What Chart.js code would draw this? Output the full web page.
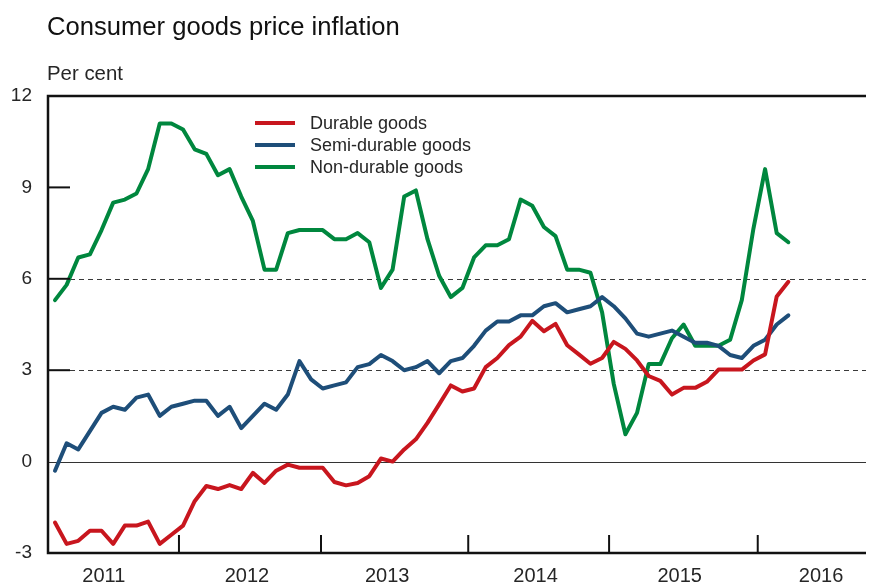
<!DOCTYPE html>
<html>
<head>
<meta charset="utf-8">
<title>Consumer goods price inflation</title>
<script src="https://cdn.jsdelivr.net/npm/chart.js@4.4.1/dist/chart.umd.min.js"></script>
<style>
    body { margin: 0; background: #fff; }
    #wrap { width: 875px; height: 585px; position: relative; }
</style>
</head>
<body>
<div id="wrap"><canvas id="inflationChart"></canvas></div>
<script>
// monthly observations, index 0 = first month shown
var durableGoods = [
    -2.0, -2.7, -2.6, -2.27, -2.27, -2.7, -2.1, -2.1, -1.97, -2.7, -2.4, -2.1,
    -1.3, -0.8, -0.9, -0.77, -0.9, -0.37, -0.7, -0.3, -0.1, -0.2, -0.2, -0.2,
    -0.67, -0.78, -0.7, -0.48, 0.1, 0.0, 0.4, 0.73, 1.27, 1.88, 2.5, 2.3,
    2.4, 3.1, 3.4, 3.82, 4.1, 4.62, 4.28, 4.52, 3.82, 3.52, 3.21, 3.4,
    3.93, 3.7, 3.32, 2.81, 2.65, 2.2, 2.42, 2.42, 2.62, 3.02, 3.02, 3.02,
    3.32, 3.52, 5.42, 5.9
];
var semiDurableGoods = [
    -0.3, 0.6, 0.4, 1.0, 1.6, 1.8, 1.7, 2.1, 2.2, 1.5, 1.8, 1.9,
    2.0, 2.0, 1.5, 1.8, 1.1, 1.5, 1.9, 1.7, 2.2, 3.3, 2.7, 2.4,
    2.5, 2.6, 3.1, 3.2, 3.5, 3.3, 3.0, 3.1, 3.3, 2.9, 3.3, 3.4,
    3.8, 4.3, 4.6, 4.6, 4.8, 4.8, 5.1, 5.2, 4.9, 5.0, 5.1, 5.4,
    5.1, 4.7, 4.2, 4.1, 4.2, 4.3, 4.1, 3.9, 3.9, 3.8, 3.5, 3.4,
    3.8, 4.0, 4.5, 4.8
];
var nonDurableGoods = [
    5.3, 5.8, 6.7, 6.8, 7.6, 8.5, 8.6, 8.8, 9.6, 11.1, 11.1, 10.9,
    10.25, 10.1, 9.4, 9.6, 8.7, 7.9, 6.3, 6.3, 7.5, 7.6, 7.6, 7.6,
    7.3, 7.3, 7.5, 7.2, 5.7, 6.3, 8.7, 8.9, 7.3, 6.1, 5.4, 5.7,
    6.7, 7.1, 7.1, 7.3, 8.6, 8.4, 7.7, 7.4, 6.3, 6.3, 6.2, 4.9,
    2.55, 0.9, 1.6, 3.2, 3.2, 4.05, 4.5, 3.8, 3.8, 3.8, 4.0, 5.3,
    7.65, 9.6, 7.5, 7.2
];

// x axis: year labels and the year break tick marks (in month-index units)
var yearLabels = ['2011', '2012', '2013', '2014', '2015', '2016'];
var yearLabelPos = [4.19, 16.49, 28.54, 41.28, 53.67, 65.81];
var yearTickPos = [10.65, 22.85, 35.5, 47.6, 60.37];

var yTickMarks = [3, 6, 9];
var dashedLines = [3, 6];

var FONT = '"Liberation Sans", Arial, Helvetica, sans-serif';
var TEXT = '#262626';

function toPoints(values) {
    return values.map(function(v, i) {
        return { x: i, y: v };
    });
}

var chartDecor = {
    id: 'chartDecor',
    beforeDatasetsDraw: function(chart) {
        var ctx = chart.ctx;
        var a = chart.chartArea;
        var y = chart.scales.y;
        ctx.save();
        ctx.strokeStyle = '#3a3a3a';
        ctx.lineWidth = 1;
        ctx.setLineDash([5, 4]);
        dashedLines.forEach(function(v) {
            var py = Math.round(y.getPixelForValue(v)) + 0.5;
            ctx.beginPath();
            ctx.moveTo(a.left + 22, py);
            ctx.lineTo(a.right, py);
            ctx.stroke();
        });
        ctx.setLineDash([]);
        // zero line
        var pz = Math.round(y.getPixelForValue(0)) + 0.5;
        ctx.strokeStyle = '#333';
        ctx.beginPath();
        ctx.moveTo(a.left, pz);
        ctx.lineTo(a.right, pz);
        ctx.stroke();
        ctx.restore();
    },
    afterDraw: function(chart) {
        var ctx = chart.ctx;
        var a = chart.chartArea;
        var x = chart.scales.x;
        var y = chart.scales.y;
        ctx.save();

        // frame: left, top and bottom
        ctx.strokeStyle = '#111';
        ctx.lineWidth = 2.5;
        ctx.beginPath();
        ctx.moveTo(a.right, a.top);
        ctx.lineTo(a.left, a.top);
        ctx.lineTo(a.left, a.bottom);
        ctx.lineTo(a.right, a.bottom);
        ctx.stroke();

        // inward tick marks
        ctx.lineWidth = 2;
        yTickMarks.forEach(function(v) {
            var py = y.getPixelForValue(v);
            ctx.beginPath();
            ctx.moveTo(a.left, py);
            ctx.lineTo(a.left + 22, py);
            ctx.stroke();
        });
        yearTickPos.forEach(function(v) {
            var px = x.getPixelForValue(v);
            ctx.beginPath();
            ctx.moveTo(px, a.bottom);
            ctx.lineTo(px, a.bottom - 18);
            ctx.stroke();
        });

        // title and unit
        ctx.fillStyle = '#111';
        ctx.textAlign = 'left';
        ctx.textBaseline = 'alphabetic';
        ctx.font = '25.6px ' + FONT;
        ctx.fillText('Consumer goods price inflation', 47, 35);
        ctx.fillStyle = TEXT;
        ctx.font = '20.4px ' + FONT;
        ctx.fillText('Per cent', 47, 80);

        // legend
        ctx.font = '18px ' + FONT;
        ctx.textBaseline = 'middle';
        chart.data.datasets.forEach(function(ds, i) {
            var ly = 123 + i * 22;
            ctx.strokeStyle = ds.borderColor;
            ctx.lineWidth = 4;
            ctx.beginPath();
            ctx.moveTo(255, ly);
            ctx.lineTo(295, ly);
            ctx.stroke();
            ctx.fillStyle = TEXT;
            ctx.fillText(ds.label, 310, ly + 1);
        });
        ctx.restore();
    }
};

var ctx = document.getElementById('inflationChart').getContext('2d');
var chart = new Chart(ctx, {
    type: 'line',
    data: {
        datasets: [
            {
                label: 'Durable goods',
                data: toPoints(durableGoods),
                borderColor: '#c8161e',
                borderWidth: 4,
                pointRadius: 0,
                tension: 0,
                fill: false,
                borderJoinStyle: 'round',
                borderCapStyle: 'round'
            },
            {
                label: 'Semi-durable goods',
                data: toPoints(semiDurableGoods),
                borderColor: '#1e4e79',
                borderWidth: 4,
                pointRadius: 0,
                tension: 0,
                fill: false,
                borderJoinStyle: 'round',
                borderCapStyle: 'round'
            },
            {
                label: 'Non-durable goods',
                data: toPoints(nonDurableGoods),
                borderColor: '#00873e',
                borderWidth: 4,
                pointRadius: 0,
                tension: 0,
                fill: false,
                borderJoinStyle: 'round',
                borderCapStyle: 'round'
            }
        ]
    },
    options: {
        responsive: true,
        maintainAspectRatio: false,
        animation: false,
        layout: {
            padding: { top: 96, right: 9, left: 0, bottom: 0 }
        },
        scales: {
            x: {
                type: 'linear',
                min: -0.6,
                max: 69.67,
                grid: { display: false, drawTicks: false },
                border: { display: false },
                afterBuildTicks: function(scale) {
                    scale.ticks = yearLabelPos.map(function(v) {
                        return { value: v };
                    });
                },
                afterFit: function(scale) {
                    scale.height = 32;
                },
                ticks: {
                    autoSkip: false,
                    maxRotation: 0,
                    padding: 11,
                    color: TEXT,
                    font: { family: FONT, size: 20 },
                    callback: function(value, index) {
                        return yearLabels[index];
                    }
                }
            },
            y: {
                min: -3,
                max: 12,
                grid: { display: false, drawTicks: false },
                border: { display: false },
                afterFit: function(scale) {
                    scale.width = 48;
                },
                ticks: {
                    stepSize: 3,
                    padding: 16,
                    color: TEXT,
                    font: { family: FONT, size: 19 }
                }
            }
        },
        plugins: {
            legend: { display: false },
            tooltip: { enabled: false }
        }
    },
    plugins: [chartDecor]
});
</script>
</body>
</html>
